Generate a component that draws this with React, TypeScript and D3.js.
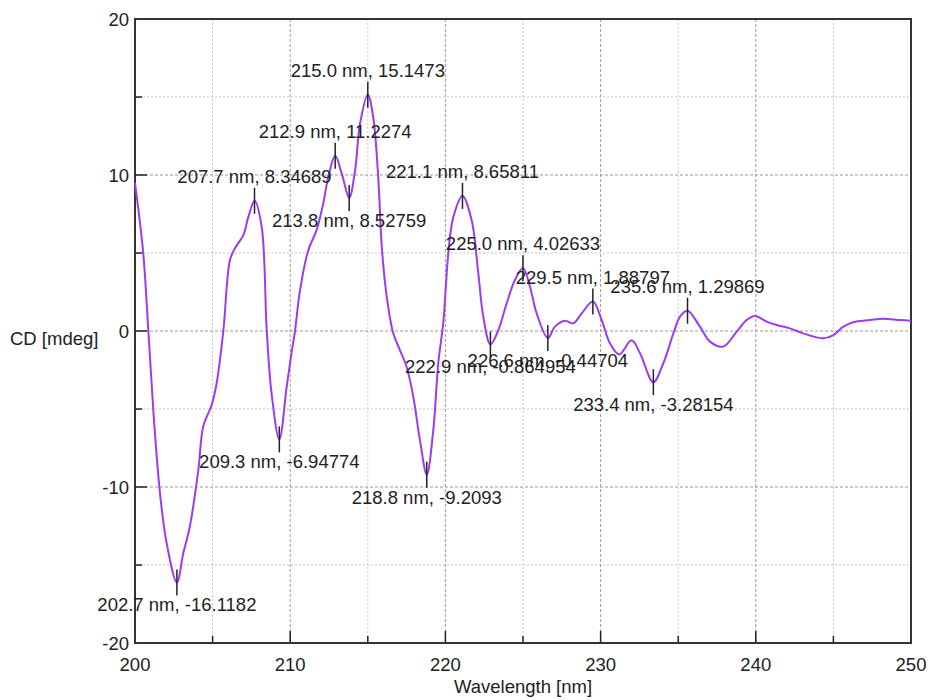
import React from "react";
import * as d3 from "d3";

const wavelengths = [
  200.0, 200.53, 200.86, 201.18, 201.61, 202.04, 202.7, 203.11, 203.54, 204.08, 204.4, 204.94, 205.26, 205.69,
  206.12, 206.44, 206.98, 207.3, 207.7, 208.16, 208.49, 208.8, 209.3, 209.77, 210.1, 210.31, 210.63, 211.17,
  211.7, 212.13, 212.46, 212.9, 213.32, 213.8, 214.18, 214.5, 215.0, 215.35, 215.68, 215.9, 216.22, 216.64,
  217.07, 217.5, 217.93, 218.36, 218.8, 219.22, 219.54, 219.86, 220.19, 220.51, 221.1, 221.69, 222.12, 222.44,
  222.9, 223.41, 223.95, 224.48, 225.0, 225.45, 225.88, 226.6, 227.06, 227.71, 228.24, 228.78, 229.5, 230.07,
  230.6, 231.2, 232.0, 232.54, 233.4, 234.04, 234.69, 235.12, 235.6, 236.4, 237.05, 237.9, 238.77, 239.41,
  239.95, 240.7, 241.35, 242.2, 243.06, 244.35, 245.0, 245.64, 246.28, 247.36, 248.2, 249.29, 250.0,
];
const cdValues = [
  9.5, 5.0, 0.0, -5.1, -10.4, -13.6, -16.12, -14.25, -12.5, -8.9, -6.1, -4.74, -3.35, 0.0,
  4.55, 5.3, 6.15, 7.3, 8.35, 6.7, 0.0, -4.0, -6.95, -3.6, -1.3, 0.0, 2.6, 5.19,
  6.47, 8.18, 9.9, 11.23, 10.1, 8.53, 10.3, 13.3, 15.15, 13.7, 9.7, 5.4, 2.2, -0.15,
  -1.22, -2.29, -4.2, -7.0, -9.21, -6.35, -2.07, 0.5, 5.0, 7.3, 8.66, 7.1, 3.7, 0.92,
  -0.86, 0.06, 1.78, 3.27, 4.03, 2.84, 1.13, -0.45, 0.28, 0.66, 0.49, 1.13, 1.89, 0.7,
  -0.79, -1.5, -0.6, -1.43, -3.28, -2.07, -0.15, 0.92, 1.3, 0.28, -0.68, -1.0, -0.04, 0.7,
  0.96, 0.6, 0.38, 0.17, -0.15, -0.47, -0.26, 0.28, 0.56, 0.7, 0.79, 0.7, 0.66,
];

const peakWavelengths = [202.7, 207.7, 209.3, 212.9, 213.8, 215.0, 218.8, 221.1, 222.9, 225.0, 226.6, 229.5, 233.4, 235.6];
const peakValues = ["-16.1182", "8.34689", "-6.94774", "11.2274", "8.52759", "15.1473", "-9.2093", "8.65811", "-0.864954", "4.02633", "-0.44704", "1.88797", "-3.28154", "1.29869"];
const peakKinds = ["min", "max", "min", "max", "min", "max", "min", "max", "min", "max", "min", "max", "min", "max"];

const xTicks = [200, 210, 220, 230, 240, 250];
const xMinorTicks = [205, 215, 225, 235, 245];
const yTicks = [-20, -10, 0, 10, 20];
const yMinorTicks = [-15, -5, 5, 15];

const xLabel = "Wavelength [nm]";
const yLabel = "CD [mdeg]";

export default function App() {
  const W = 930, H = 700;
  const left = 135, right = 911, top = 19, bottom = 643;
  const x = d3.scaleLinear().domain([200, 250]).range([left, right]);
  const y = d3.scaleLinear().domain([-20, 20]).range([bottom, top]);
  const pts: [number, number][] = wavelengths.map((w, i) => [w, cdValues[i]]);
  const line = d3
    .line<[number, number]>()
    .x((d) => x(d[0]))
    .y((d) => y(d[1]))
    .curve(d3.curveCatmullRom.alpha(0.5));
  const font = "'Liberation Sans', Arial, sans-serif";
  const fs = 18.5;

  return (
    <svg width={W} height={H} style={{ position: "absolute", left: 0, top: 0, background: "#fff" }} fontFamily={font}>
      <rect x={0} y={0} width={W} height={H} fill="#fff" />
      {/* grid */}
      {xMinorTicks.map((t) => (
        <line key={"gxm" + t} x1={x(t)} x2={x(t)} y1={top} y2={bottom} stroke="#c4c4c4" strokeWidth={1} strokeDasharray="2,2" />
      ))}
      {yMinorTicks.map((t) => (
        <line key={"gym" + t} x1={left} x2={right} y1={y(t)} y2={y(t)} stroke="#c4c4c4" strokeWidth={1} strokeDasharray="2,2" />
      ))}
      {xTicks.slice(1, -1).map((t) => (
        <line key={"gx" + t} x1={x(t)} x2={x(t)} y1={top} y2={bottom} stroke="#9a9a9a" strokeWidth={1} strokeDasharray="3,2" />
      ))}
      {yTicks.slice(1, -1).map((t) => (
        <line key={"gy" + t} x1={left} x2={right} y1={y(t)} y2={y(t)} stroke="#9a9a9a" strokeWidth={1} strokeDasharray="3,2" />
      ))}
      {/* ticks */}
      {xTicks.map((t) => (
        <line key={"tx" + t} x1={x(t)} x2={x(t)} y1={bottom} y2={bottom - 12} stroke="#222" strokeWidth={1.5} />
      ))}
      {xMinorTicks.map((t) => (
        <line key={"txm" + t} x1={x(t)} x2={x(t)} y1={bottom} y2={bottom - 7} stroke="#222" strokeWidth={1.5} />
      ))}
      {yTicks.map((t) => (
        <line key={"ty" + t} x1={left} x2={left + 12} y1={y(t)} y2={y(t)} stroke="#222" strokeWidth={1.5} />
      ))}
      {yMinorTicks.map((t) => (
        <line key={"tym" + t} x1={left} x2={left + 7} y1={y(t)} y2={y(t)} stroke="#222" strokeWidth={1.5} />
      ))}
      {/* frame */}
      <rect x={left} y={top} width={right - left} height={bottom - top} fill="none" stroke="#333" strokeWidth={2} />
      {/* tick labels */}
      {xTicks.map((t) => (
        <text key={"lx" + t} x={x(t)} y={671} textAnchor="middle" fontSize={fs} fill="#222">
          {t}
        </text>
      ))}
      {yTicks.map((t) => (
        <text key={"ly" + t} x={129} y={y(t) + 6.5} textAnchor="end" fontSize={fs} fill="#222">
          {t}
        </text>
      ))}
      <text x={(left + right) / 2} y={693} textAnchor="middle" fontSize={fs} fill="#222">
        {xLabel}
      </text>
      <text x={10} y={345} fontSize={fs} fill="#222">
        {yLabel}
      </text>
      {/* curve */}
      <path d={line(pts) || ""} fill="none" stroke="#9b3cf2" strokeWidth={2} />
      {/* annotations */}
      {peakWavelengths.map((w, i) => {
        const v = parseFloat(peakValues[i]);
        const px = x(w);
        const py = y(v);
        const isMax = peakKinds[i] === "max";
        return (
          <g key={"pk" + i}>
            <line x1={px} x2={px} y1={py - 13} y2={py + 13} stroke="#222" strokeWidth={1.5} />
            <text x={px} y={isMax ? py - 18 : py + 29} textAnchor="middle" fontSize={fs} fill="#222">
              {`${w.toFixed(1)} nm, ${peakValues[i]}`}
            </text>
          </g>
        );
      })}
    </svg>
  );
}
